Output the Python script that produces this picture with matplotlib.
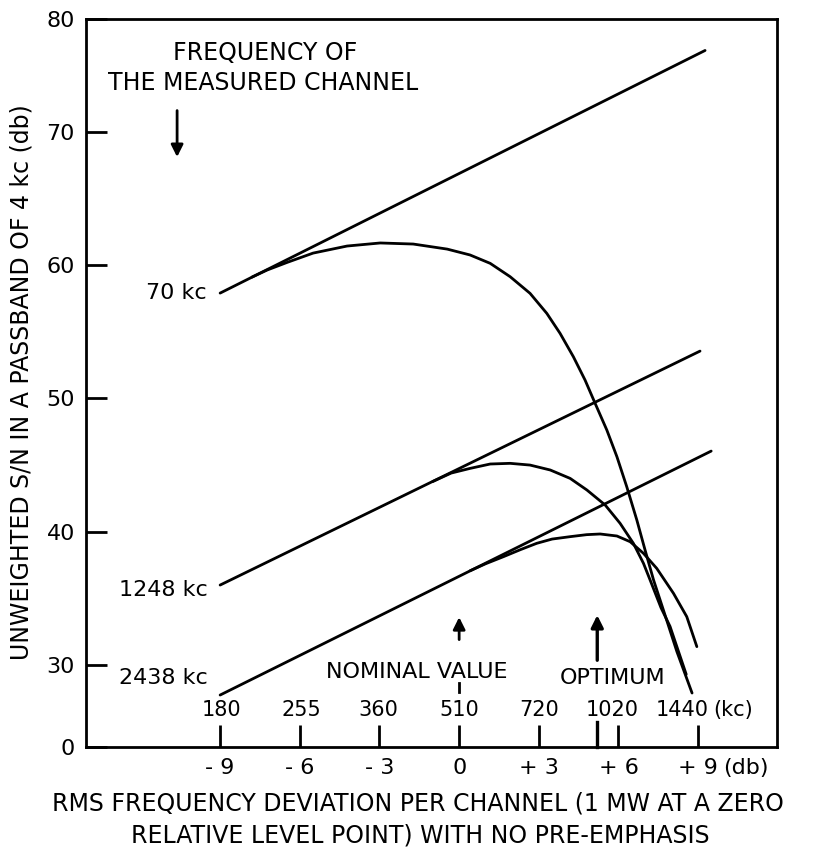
import numpy as np
import matplotlib
matplotlib.use("Agg")
import matplotlib.pyplot as plt

plt.rcParams['font.family'] = ['DejaVu Sans']

# deviation scale (db) and matching rms deviation (kc)
db_ticks = [-9, -6, -3, 0, 3, 6, 9]
db_labels = ['- 9', '- 6', '- 3', '0', '+ 3', '+ 6', '+ 9']
kc_labels = ['180', '255', '360', '510', '720', '1020', '1440']
y_labels = ['0', '30', '40', '50', '60', '70', '80']
y_vals = [30, 40, 50, 60, 70]

# straight lines (no intermodulation)
line_70_x = [-9.0, 9.26]
line_70_y = [57.9, 76.1]
line_1248_x = [-9.0, 9.07]
line_1248_y = [36.0, 53.55]
line_2438_x = [-9.0, 9.49]
line_2438_y = [27.75, 46.05]

# curves with intermodulation noise
curve_70_x = [-7.8, -7.23, -6.48, -5.5, -4.22, -2.97, -1.73, -0.45, 0.41, 1.17,
              1.92, 2.67, 3.30, 3.80, 4.30, 4.74, 5.12, 5.56, 5.94, 6.31,
              6.69, 7.0, 7.32, 7.69, 8.2, 8.77]
curve_70_y = [59.1, 59.63, 60.2, 60.9, 61.43, 61.66, 61.58, 61.2, 60.76, 60.13,
              59.13, 57.88, 56.38, 54.88, 53.13, 51.38, 49.63, 47.63, 45.63, 43.38,
              40.88, 38.63, 36.38, 34.13, 31.0, 27.9]
curve_1248_x = [-1.0, -0.3, 0.41, 1.17, 1.92, 2.67, 3.43, 4.18, 4.81, 5.5,
                6.06, 6.56, 6.94, 7.19, 7.6, 7.94, 8.55]
curve_1248_y = [43.76, 44.4, 44.75, 45.08, 45.13, 45.0, 44.63, 44.0, 43.13, 42.0,
                40.63, 39.13, 37.63, 36.38, 34.3, 32.9, 29.3]
curve_2438_x = [0.41, 1.0, 1.67, 2.3, 2.92, 3.5, 4.18, 4.8, 5.31, 5.94,
                6.44, 6.94, 7.44, 8.07, 8.57, 8.95]
curve_2438_y = [37.07, 37.6, 38.13, 38.65, 39.13, 39.45, 39.63, 39.78, 39.83, 39.68,
                39.25, 38.38, 37.25, 35.38, 33.63, 31.38]

ybot, ytop = 23.85, 78.46

fig = plt.figure(figsize=(8.27, 8.56), dpi=100)
ax = fig.add_axes([0.104, 0.1273, 0.8356, 0.8505])
ax.set_xlim(-14.05, 11.97)
ax.set_ylim(ybot, ytop)

lw = 2.0
for xs, ys in [(line_70_x, line_70_y), (line_1248_x, line_1248_y), (line_2438_x, line_2438_y),
               (curve_70_x, curve_70_y), (curve_1248_x, curve_1248_y), (curve_2438_x, curve_2438_y)]:
    ax.plot(xs, ys, color='black', lw=lw, solid_capstyle='round', solid_joinstyle='round')

for s in ax.spines.values():
    s.set_linewidth(2.0)

# ticks
ax.set_yticks([ybot] + y_vals + [ytop])
ax.set_yticklabels(y_labels, fontsize=16)
ax.tick_params(axis='y', direction='in', length=15, width=2, pad=8)
ax.set_xticks(db_ticks)
ax.set_xticklabels([])
ax.tick_params(axis='x', direction='in', length=16, width=2)

# db labels below the axis
for xv, lab in zip(db_ticks, db_labels):
    ax.text(xv, 22.3, lab, ha='center', va='center', fontsize=16, clip_on=False)
ax.text(9.95, 22.3, '(db)', ha='left', va='center', fontsize=16, clip_on=False)

# kc labels above the ticks
kc_pos = [-8.96, -5.95, -3.05, 0.0, 3.0, 5.75, 8.4]
for xv, lab in zip(kc_pos, kc_labels):
    ax.text(xv, 26.6, lab, ha='center', va='center', fontsize=15)
ax.text(9.55, 26.6, '(kc)', ha='left', va='center', fontsize=15)

# optimum marker tick and arrows
ax.plot([5.2, 5.2], [ybot, 25.72], color='black', lw=2.4, clip_on=False)
ax.plot([0, 0], [28.0, 28.65], color='black', lw=2)
ax.annotate('', xy=(0, 33.8), xytext=(0, 31.7),
            arrowprops=dict(arrowstyle='-|>', color='black', lw=2, mutation_scale=18))
ax.annotate('', xy=(5.2, 33.95), xytext=(5.2, 30.15),
            arrowprops=dict(arrowstyle='-|>', color='black', lw=2.4, mutation_scale=18))
ax.annotate('', xy=(-10.62, 67.9), xytext=(-10.62, 71.8),
            arrowprops=dict(arrowstyle='-|>', color='black', lw=2, mutation_scale=18))

ax.text(-1.58, 29.47, 'NOMINAL VALUE', ha='center', va='center', fontsize=16)
ax.text(5.76, 29.0, 'OPTIMUM', ha='center', va='center', fontsize=16)
ax.text(-7.3, 75.9, 'FREQUENCY OF', ha='center', va='center', fontsize=17)
ax.text(-7.38, 73.66, 'THE MEASURED CHANNEL', ha='center', va='center', fontsize=17)

ax.text(-9.49, 57.9, '70 kc', ha='right', va='center', fontsize=16)
ax.text(-9.45, 35.6, '1248 kc', ha='right', va='center', fontsize=16)
ax.text(-9.45, 29.0, '2438 kc', ha='right', va='center', fontsize=16)

fig.text(22 / 827, 1 - 382 / 856, 'UNWEIGHTED S/N IN A PASSBAND OF 4 kc (db)',
         rotation=90, ha='center', va='center', fontsize=17)
fig.text(418 / 827, 1 - 803 / 856, 'RMS FREQUENCY DEVIATION PER CHANNEL (1 MW AT A ZERO',
         ha='center', va='center', fontsize=17)
fig.text(420 / 827, 1 - 836 / 856, 'RELATIVE LEVEL POINT) WITH NO PRE-EMPHASIS',
         ha='center', va='center', fontsize=17)

fig.savefig('out.png', dpi=100)
